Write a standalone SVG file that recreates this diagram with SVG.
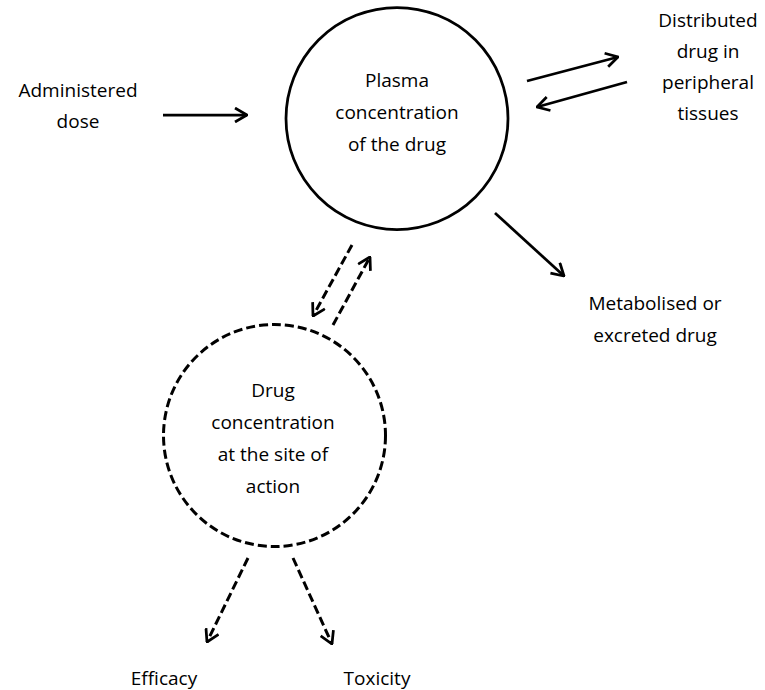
<svg xmlns="http://www.w3.org/2000/svg" width="765" height="690" viewBox="0 0 765 690">
<defs>
<style>
text{font-family:"Open Sans","Noto Sans","Liberation Sans",sans-serif;font-size:19px;fill:#000;text-anchor:middle;font-variant-ligatures:none}
.solid{fill:none;stroke:#000;stroke-width:2.75}
.dash{fill:none;stroke:#000;stroke-width:3;stroke-dasharray:9 4}
</style>
<marker id="ah" markerUnits="userSpaceOnUse" viewBox="0 0 14 16" refX="13" refY="8" markerWidth="14" markerHeight="16" orient="auto">
<path d="M1,1 L13,8 L1,15" fill="none" stroke="#000" stroke-width="2.75"/>
</marker>
</defs>
<rect width="765" height="690" fill="#fff"/>
<g id="plasma">
<circle class="solid" cx="397" cy="118.5" r="111"/>
<text x="397" y="87">Plasma</text>
<text x="397" y="119">concentration</text>
<text x="397" y="151">of the drug</text>
</g>
<g id="site">
<circle class="dash" cx="274.5" cy="435.5" r="111"/>
<text x="273" y="397">Drug</text>
<text x="273" y="429">concentration</text>
<text x="273" y="461">at the site of</text>
<text x="273" y="493">action</text>
</g>
<g id="administered">
<text x="78" y="97">Administered</text>
<text x="78" y="128">dose</text>
</g>
<g id="distributed">
<text x="708" y="27">Distributed</text>
<text x="708" y="58">drug in</text>
<text x="708" y="89">peripheral</text>
<text x="708" y="120">tissues</text>
</g>
<g id="metabolised">
<text x="655" y="310">Metabolised or</text>
<text x="655" y="342">excreted drug</text>
</g>
<g id="efficacy"><text x="164" y="685">Efficacy</text></g>
<g id="toxicity"><text x="377" y="685">Toxicity</text></g>
<g id="connectors">
<line class="solid" x1="163" y1="115" x2="247" y2="115" marker-end="url(#ah)"/>
<line class="solid" x1="527" y1="81" x2="618" y2="57" marker-end="url(#ah)"/>
<line class="solid" x1="627" y1="82" x2="537" y2="107" marker-end="url(#ah)"/>
<line class="solid" x1="495" y1="213" x2="564" y2="276" marker-end="url(#ah)"/>
<line class="dash" x1="352" y1="245" x2="313" y2="316" marker-end="url(#ah)"/>
<line class="dash" x1="333" y1="325" x2="370" y2="257" marker-end="url(#ah)"/>
<line class="dash" x1="248" y1="558" x2="207" y2="642" marker-end="url(#ah)"/>
<line class="dash" x1="293" y1="558" x2="332" y2="644" marker-end="url(#ah)"/>
</g>
</svg>
